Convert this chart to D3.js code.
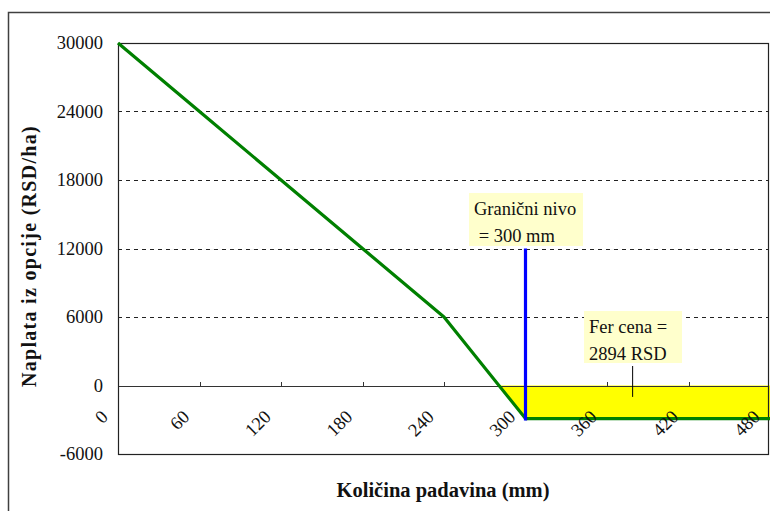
<!DOCTYPE html>
<html><head><meta charset="utf-8">
<script src="https://cdn.jsdelivr.net/npm/d3@7"></script>
<style>body{margin:0;background:#fff;} svg{display:block;}
text{font-family:"Liberation Serif","Times New Roman",serif;}</style>
</head><body>
<svg id="c" width="770" height="511"></svg>
<script>
// Data
const rainfall = [0, 60, 120, 180, 240, 300, 360, 420, 480];
const payoff = [30000, 24000, 18000, 12000, 6000, -2894, -2894, -2894, -2894];
const yTicks = [-6000, 0, 6000, 12000, 18000, 24000, 30000];
const xTicks = [0, 60, 120, 180, 240, 300, 360, 420, 480];
const strike = 300;          // Granični nivo
const strikeTop = 12000;
const fairPrice = 2894;
const labelStrike = ["Granični nivo", " = 300 mm"];
const labelFair = ["Fer cena =", "2894 RSD"];
const yTitle = "Naplata iz opcije (RSD/ha)";
const xTitle = "Količina padavina (mm)";

const svg = d3.select("#c");
const L = 118, R = 770, T = 43, B = 454;
const x = d3.scaleLinear().domain([0, 480]).range([L, R]);
const y = d3.scaleLinear().domain([-6000, 30000]).range([B, T]);

// outer chart border
svg.append("rect").attr("x", 8.5).attr("y", 12.5).attr("width", 800).attr("height", 520)
  .attr("fill", "none").attr("stroke", "#404040").attr("stroke-width", 1.5);

// dashed gridlines
svg.append("g").selectAll("line").data(yTicks.filter(d => d > 0 && d < 30000)).join("line")
  .attr("x1", L).attr("x2", 769).attr("y1", d => Math.round(y(d)) + 0.5).attr("y2", d => Math.round(y(d)) + 0.5)
  .attr("stroke", "#222").attr("stroke-dasharray", "4,4").attr("stroke-width", 1);

// yellow area below zero
const pts = rainfall.map((r, i) => ({r, v: payoff[i]}));
let cross = null;
for (let i = 1; i < pts.length; i++) {
  if (pts[i-1].v >= 0 && pts[i].v < 0) {
    const t = pts[i-1].v / (pts[i-1].v - pts[i].v);
    cross = {r: pts[i-1].r + t * (pts[i].r - pts[i-1].r), v: 0};
  }
}
const neg = [cross].concat(pts.filter(p => p.v < 0));
svg.append("path").datum(neg)
  .attr("d", d3.area().x(d => x(d.r)).y0(y(0)).y1(d => y(d.v)))
  .attr("fill", "#ffff00");

// zero line
svg.append("line").attr("x1", L).attr("x2", 769).attr("y1", Math.round(y(0)) + 0.5).attr("y2", Math.round(y(0)) + 0.5)
  .attr("stroke", "#333").attr("stroke-width", 1.2);

// x tick marks
svg.append("g").selectAll("line").data(xTicks.filter(d => d > 0)).join("line")
  .attr("x1", d => Math.round(x(d)) + 0.5).attr("x2", d => Math.round(x(d)) + 0.5)
  .attr("y1", Math.round(y(0))).attr("y2", Math.round(y(0)) - 4)
  .attr("stroke", "#333").attr("stroke-width", 1);

// plot border
svg.append("rect").attr("x", L + 0.5).attr("y", T + 0.5).attr("width", 769 - L - 1).attr("height", B - T)
  .attr("fill", "none").attr("stroke", "#222").attr("stroke-width", 1.2);

// green payoff line
svg.append("path").datum(pts)
  .attr("d", d3.line().x(d => x(d.r)).y(d => y(d.v)))
  .attr("fill", "none").attr("stroke", "#008000").attr("stroke-width", 3.2).attr("stroke-linejoin", "round");

// blue strike line
svg.append("line").attr("x1", x(strike)).attr("x2", x(strike)).attr("y1", y(strikeTop)).attr("y2", y(-fairPrice) + 2)
  .attr("stroke", "#0000ff").attr("stroke-width", 3.2);

// y tick labels
svg.append("g").selectAll("text").data(yTicks).join("text")
  .attr("x", 103).attr("y", d => y(d)).attr("dy", "0.35em").attr("text-anchor", "end")
  .attr("font-size", 18.5).attr("fill", "#111").text(d => d);

// x tick labels (rotated)
svg.append("g").selectAll("text").data(xTicks).join("text")
  .attr("transform", d => `translate(${x(d) - 9},${418}) rotate(-45)`)
  .attr("text-anchor", "end").attr("font-size", 18.5).attr("fill", "#111").text(d => d);

// annotation boxes
function box(lines, bx, by, bw, bh, tx, ty) {
  svg.append("rect").attr("x", bx).attr("y", by).attr("width", bw).attr("height", bh).attr("fill", "#ffffcc");
  svg.append("text").attr("font-size", 18.5).attr("fill", "#111").attr("xml:space", "preserve")
    .selectAll("tspan").data(lines).join("tspan")
    .attr("x", tx).attr("y", (d, i) => ty + i * 27).text(d => d);
}
box(labelStrike, 469, 193, 114, 53, 474, 215);
box(labelFair, 584, 311, 98, 52, 589, 333);
// leader line for fair price
svg.append("line").attr("x1", x(378.5) + 0.5).attr("x2", x(378.5) + 0.5).attr("y1", 366).attr("y2", y(-1000))
  .attr("stroke", "#000").attr("stroke-width", 1);

// axis titles
svg.append("text").attr("transform", "translate(36,256) rotate(-90)").attr("text-anchor", "middle")
  .attr("font-size", 20).attr("font-weight", "bold").attr("letter-spacing", 1.3).attr("fill", "#111").text(yTitle);
svg.append("text").attr("x", 443).attr("y", 497).attr("text-anchor", "middle")
  .attr("font-size", 20.5).attr("font-weight", "bold").attr("fill", "#111").text(xTitle);
</script>
</body></html>
